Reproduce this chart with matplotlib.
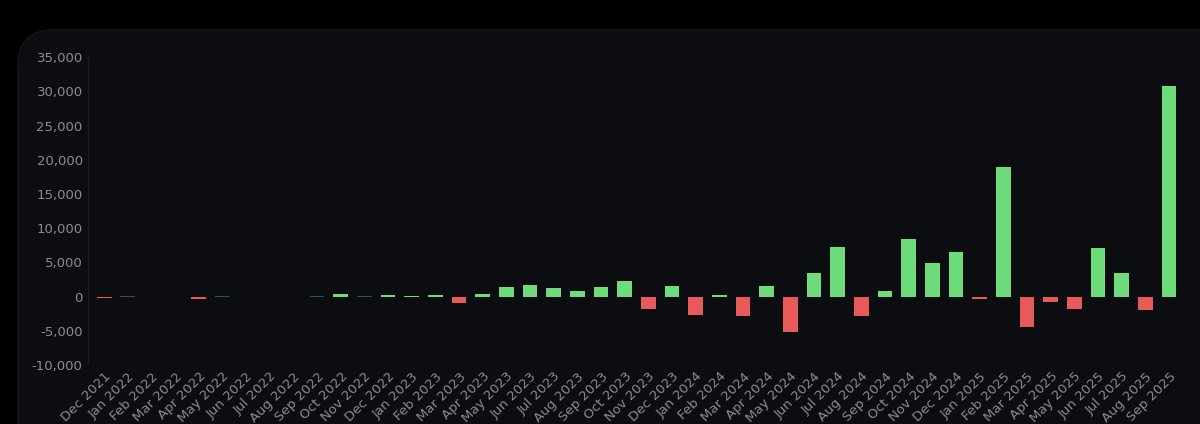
import numpy as np
import matplotlib.pyplot as plt
from matplotlib.patches import FancyBboxPatch
from matplotlib.ticker import FuncFormatter

months = ["Dec 2021", "Jan 2022", "Feb 2022", "Mar 2022", "Apr 2022", "May 2022", "Jun 2022",
          "Jul 2022", "Aug 2022", "Sep 2022", "Oct 2022", "Nov 2022", "Dec 2022", "Jan 2023",
          "Feb 2023", "Mar 2023", "Apr 2023", "May 2023", "Jun 2023", "Jul 2023", "Aug 2023",
          "Sep 2023", "Oct 2023", "Nov 2023", "Dec 2023", "Jan 2024", "Feb 2024", "Mar 2024",
          "Apr 2024", "May 2024", "Jun 2024", "Jul 2024", "Aug 2024", "Sep 2024", "Oct 2024",
          "Nov 2024", "Dec 2024", "Jan 2025", "Feb 2025", "Mar 2025", "Apr 2025", "May 2025",
          "Jun 2025", "Jul 2025", "Aug 2025", "Sep 2025"]
values = [-200, 100, -100, -100, -400, 50, -30, -50, -100, 50, 400, 100, 200, 150, 200,
          -1000, 400, 1400, 1700, 1300, 800, 1400, 2300, -1800, 1600, -2700, 300, -2900,
          1600, -5100, 3500, 7200, -2800, 800, 8400, 4900, 6600, -300, 19000, -4400, -800,
          -1800, 7100, 3400, -2000, 30800]

vals = np.array(values)
colors = ["#6fdc7c" if v >= 0 else "#e85a5a" for v in vals]
alphas = [0.35 if abs(v) < 150 else 1.0 for v in vals]

fig = plt.figure(figsize=(12, 4.24), dpi=100)
fig.patch.set_facecolor("#000000")
panel = FancyBboxPatch((0.015, -0.1), 1.1, 1.03, boxstyle="round,pad=0,rounding_size=0.03",
                       transform=fig.transFigure, facecolor="#0c0d10", edgecolor="#16171b",
                       linewidth=1, mutation_aspect=12 / 4.24, zorder=-10)
fig.patches.append(panel)

ax = fig.add_axes([0.073, 0.139, 0.915, 0.726])
ax.set_zorder(5)
ax.set_facecolor("#0c0d10")
x = np.arange(len(months))
bars = ax.bar(x, vals, width=0.62, color=colors)
for b, a in zip(bars, alphas):
    b.set_alpha(a)

ax.set_ylim(-10000, 35000)
ax.set_yticks(np.arange(-10000, 35001, 5000))
ax.yaxis.set_major_formatter(FuncFormatter(lambda v, p: f"{int(v):,}"))
ax.set_xlim(-0.7, len(months) - 0.3)
ax.set_xticks(x)
ax.set_xticklabels(months, rotation=45, ha="right", rotation_mode="anchor")
ax.tick_params(colors="#8a8c92", labelsize=9.5, length=0)
for s in ax.spines.values():
    s.set_visible(False)
ax.axvline(-0.7, color="#1a1b1f", linewidth=1)

fig.savefig("out.png", dpi=100, facecolor=fig.get_facecolor())
